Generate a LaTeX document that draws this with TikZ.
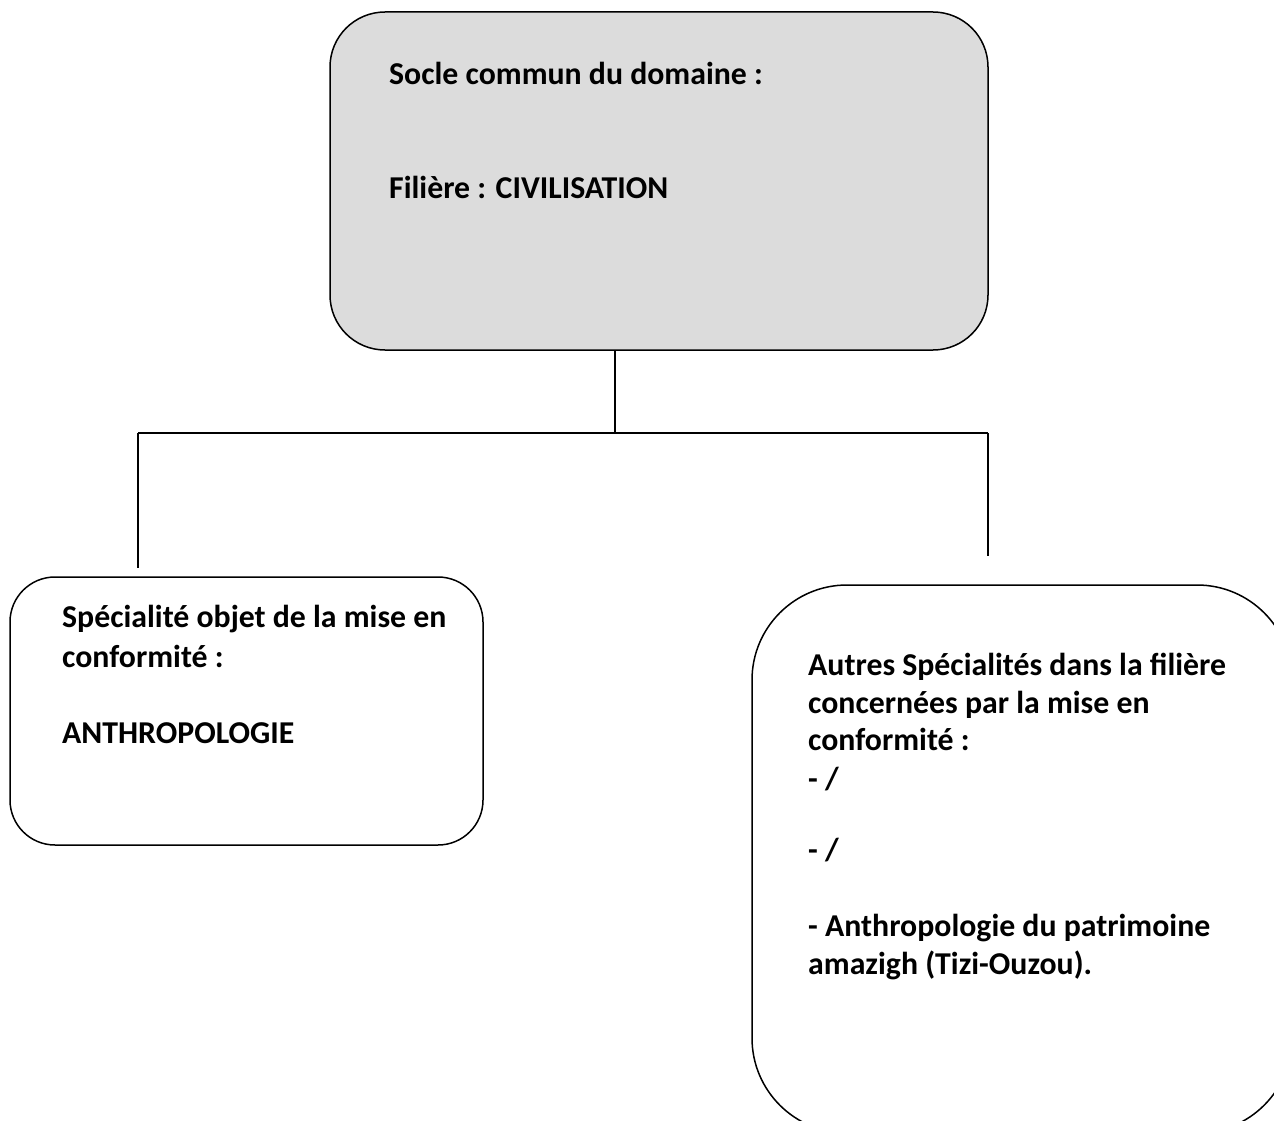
\documentclass[tikz,border=0pt]{standalone}
\usepackage{fontspec}
\setmainfont{Carlito}
\definecolor{boxgray}{HTML}{DCDCDC}
\begin{document}
\begin{tikzpicture}[x=1pt,y=-1pt,
  boxshape/.style={draw=black, line width=1.5pt, rounded corners=#1, inner sep=0pt},
  txt/.style={anchor=base west, inner sep=0pt, font=\fontsize{31.8}{38}\selectfont\bfseries},
  conn/.style={draw=black, line width=1.2pt}]
\useasboundingbox (0,0) rectangle (1274,1121);
\clip (0,0) rectangle (1274,1121);
\fill[white] (0,0) rectangle (1274,1121);
% boxes
\node[boxshape=55pt, fill=boxgray, minimum width=658pt, minimum height=338pt] (top) at (659,181) {};
\node[boxshape=45pt, minimum width=473pt, minimum height=268pt] (left) at (246.5,711) {};
\node[boxshape=95pt, minimum width=540pt, minimum height=548pt] (right) at (1022,859) {};
% texts
\node[txt] (t1) at (389,85) {Socle commun du domaine :};
\node[txt] (t2) at (389,198) {Filière : CIVILISATION};
\node[txt] (l1) at (62,627) {Spécialité objet de la mise en};
\node[txt] (l2) at (62,667) {conformité :};
\node[txt] (l3) at (62,743) {ANTHROPOLOGIE};
\node[txt] (r1) at (808,675) {Autres Spécialités dans la filière};
\node[txt] (r2) at (808,713) {concernées par la mise en};
\node[txt] (r3) at (808,750) {conformité :};
\node[txt] (r4) at (808,789) {- /};
\node[txt] (r5) at (808,860) {- /};
\node[txt] (r6) at (808,936) {- Anthropologie du patrimoine};
\node[txt] (r7) at (808,974) {amazigh (Tizi-Ouzou).};
% connectors
\coordinate (j) at (615,433);
\coordinate (jl) at (138,433);
\coordinate (jr) at (988,433);
\coordinate (el) at (138,568);
\coordinate (er) at (988,556);
\draw[conn] (top.south -| j) -- (j);
\draw[conn] (jl) -- (jr);
\draw[conn] (jl) -- (el);
\draw[conn] (jr) -- (er);
\end{tikzpicture}
\end{document}
